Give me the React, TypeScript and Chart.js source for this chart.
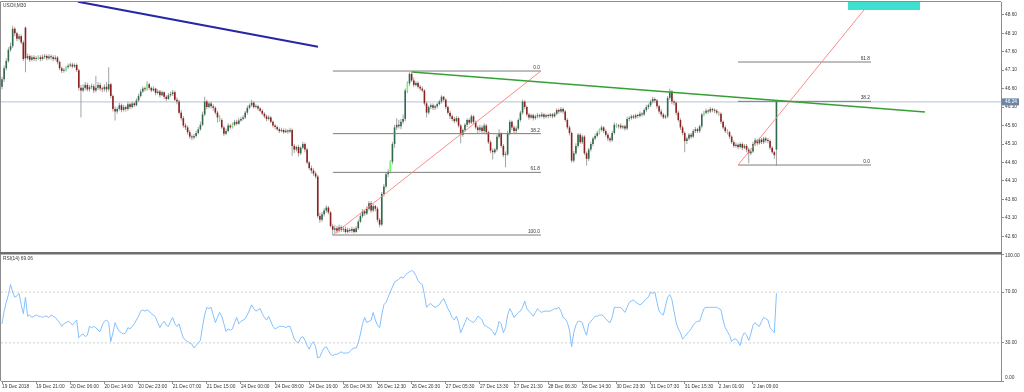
import React, { useEffect, useRef } from 'react';
import { Chart, registerables } from 'chart.js';

Chart.register(...registerables);

// ---------- DATA ----------
const symbolTitle = 'USOil,M30';
const rsiTitle = 'RSI(14) 69.06';
const lastPrice = 46.24;

const opens = [
  46.65, 46.85, 47.15, 47.35, 47.65, 47.75, 48.22, 48.10, 47.95, 48.02, 47.85, 48.25, 47.42, 47.48, 47.38, 47.45,
  47.40, 47.42, 47.45, 47.40, 47.46, 47.48, 47.42, 47.47, 47.45, 47.40, 47.44, 47.32, 47.15, 47.08, 47.10, 47.18,
  47.22, 47.25, 47.20, 47.24, 47.10, 46.62, 46.55, 46.62, 46.70, 46.58, 46.64, 46.66, 46.55, 46.62, 46.70, 46.60,
  46.58, 46.65, 46.58, 46.72, 46.40, 46.05, 45.98, 46.05, 46.15, 46.02, 46.10, 46.05, 46.18, 46.10, 46.20, 46.15,
  46.28, 46.40, 46.52, 46.60, 46.58, 46.72, 46.62, 46.55, 46.60, 46.48, 46.52, 46.42, 46.50, 46.38, 46.32, 46.42,
  46.45, 46.50, 46.30, 46.25, 45.95, 45.80, 45.60, 45.55, 45.42, 45.30, 45.28, 45.32, 45.40, 45.50, 45.62, 45.90,
  46.25, 46.10, 46.20, 46.12, 46.08, 45.95, 45.82, 45.75, 45.55, 45.38, 45.45, 45.60, 45.55, 45.62, 45.70, 45.65,
  45.74, 45.78, 45.82, 45.95, 46.08, 46.15, 46.22, 46.10, 46.12, 46.06, 46.00, 45.92, 45.85, 45.78, 45.82, 45.70,
  45.60, 45.56, 45.50, 45.45, 45.48, 45.42, 45.46, 45.44, 45.48, 45.05, 44.95, 45.02, 44.85, 45.00, 45.10, 44.95,
  44.60, 44.45, 44.38, 44.30, 44.22, 43.15, 43.05, 43.20, 43.30, 43.38, 43.25, 42.88, 42.78, 42.82, 42.75, 42.85,
  42.78, 42.80, 42.72, 42.78, 42.75, 42.80, 42.72, 42.82, 43.00, 43.15, 43.28, 43.22, 43.35, 43.50, 43.30, 43.42,
  43.35, 43.05, 42.92, 43.75, 43.95, 44.28, 44.35, 44.62, 45.10, 45.55, 45.62, 45.58, 45.70, 45.78, 46.55, 46.74,
  47.00, 46.82, 46.70, 46.75, 46.65, 46.60, 46.55, 46.20, 45.95, 46.10, 46.15, 46.08, 46.12, 46.18, 46.25, 46.38,
  46.30, 46.10, 45.95, 45.85, 45.78, 45.72, 45.80, 45.60, 45.35, 45.48, 45.62, 45.75, 45.68, 45.85, 45.70, 45.55,
  45.48, 45.55, 45.45, 45.60, 45.42, 45.15, 44.92, 44.88, 44.95, 45.30, 45.38, 45.05, 44.80, 44.82, 45.40, 45.70,
  45.55, 45.45, 45.52, 45.75, 45.95, 46.25, 46.10, 45.90, 45.82, 45.88, 45.80, 45.85, 45.88, 45.85, 45.90, 45.84,
  45.88, 45.86, 45.90, 45.85, 45.92, 46.02, 45.98, 46.05, 45.98, 45.75, 45.55, 45.40, 44.65, 44.85, 45.05, 45.35,
  45.15, 45.30, 44.85, 44.70, 44.95, 45.10, 45.25, 45.32, 45.40, 45.48, 45.55, 45.45, 45.35, 45.25, 45.20, 45.40,
  45.62, 45.58, 45.60, 45.55, 45.58, 45.52, 45.78, 45.80, 45.85, 45.82, 45.88, 45.86, 45.92, 45.90, 46.02, 46.10,
  46.15, 46.25, 46.32, 46.28, 46.12, 45.98, 45.90, 45.82, 45.85, 46.35, 46.52, 46.25, 46.22, 45.95, 45.75, 45.55,
  45.40, 45.18, 45.25, 45.35, 45.30, 45.45, 45.50, 45.45, 45.58, 45.90, 45.95, 46.00, 45.98, 46.05, 46.02, 46.00,
  45.95, 45.92, 45.70, 45.55, 45.45, 45.42, 45.30, 45.15, 45.05, 45.08, 45.02, 45.10, 45.00, 45.05, 44.95, 44.85,
  44.90, 45.10, 45.20, 45.12, 45.22, 45.15, 45.25, 45.20, 45.18, 45.00, 44.88, 44.95,
];

const highs = [
  46.92, 47.22, 47.42, 47.72, 47.85, 48.30, 48.26, 48.14, 48.08, 48.06, 47.90, 48.28, 47.55, 47.52, 47.50, 47.50,
  47.48, 47.50, 47.50, 47.52, 47.54, 47.52, 47.53, 47.52, 47.50, 47.50, 47.48, 47.36, 47.20, 47.16, 47.22, 47.28,
  47.30, 47.30, 47.28, 47.28, 47.14, 46.70, 46.72, 46.78, 46.76, 46.70, 46.74, 46.72, 46.95, 46.78, 46.76, 46.66,
  46.72, 46.78, 47.18, 46.76, 46.44, 46.12, 46.10, 46.22, 46.20, 46.16, 46.14, 46.24, 46.22, 46.26, 46.24, 46.34,
  46.46, 46.58, 46.66, 46.66, 46.80, 46.76, 46.66, 46.66, 46.62, 46.58, 46.56, 46.55, 46.52, 46.42, 46.48, 46.52,
  46.56, 46.55, 46.36, 46.30, 46.02, 45.86, 45.66, 45.60, 45.48, 45.36, 45.38, 45.46, 45.56, 45.70, 45.98, 46.38,
  46.30, 46.24, 46.26, 46.18, 46.12, 46.00, 45.88, 45.80, 45.60, 45.52, 45.66, 45.64, 45.68, 45.76, 45.76, 45.80,
  45.84, 45.88, 46.00, 46.14, 46.20, 46.30, 46.26, 46.18, 46.16, 46.10, 46.04, 45.96, 45.90, 45.88, 45.86, 45.74,
  45.64, 45.60, 45.55, 45.54, 45.52, 45.52, 45.50, 45.54, 45.52, 45.10, 45.06, 45.08, 45.04, 45.16, 45.14, 45.00,
  44.64, 44.52, 44.44, 44.36, 44.26, 43.24, 43.26, 43.36, 43.44, 43.42, 43.28, 42.94, 42.90, 42.88, 42.92, 42.90,
  42.88, 42.86, 42.84, 42.82, 42.86, 42.84, 42.88, 43.06, 43.22, 43.34, 43.32, 43.42, 43.56, 43.55, 43.48, 43.46,
  43.40, 43.10, 43.80, 44.02, 44.34, 44.42, 44.66, 45.16, 45.62, 45.80, 45.76, 45.78, 45.90, 46.60, 46.80, 47.04,
  47.06, 46.90, 46.80, 46.80, 46.70, 46.66, 46.58, 46.26, 46.14, 46.20, 46.20, 46.16, 46.22, 46.30, 46.42, 46.40,
  46.34, 46.14, 46.00, 45.90, 45.84, 45.86, 45.84, 45.64, 45.52, 45.66, 45.80, 45.80, 45.90, 45.88, 45.74, 45.60,
  45.62, 45.60, 45.66, 45.64, 45.46, 45.20, 44.98, 45.00, 45.36, 45.50, 45.42, 45.10, 44.90, 45.46, 45.76, 45.74,
  45.60, 45.58, 45.80, 46.00, 46.30, 46.28, 46.14, 45.94, 45.92, 45.92, 45.90, 45.94, 45.92, 45.96, 45.94, 45.92,
  45.92, 45.94, 45.94, 45.96, 46.06, 46.06, 46.10, 46.09, 46.02, 45.80, 45.60, 45.44, 44.92, 45.12, 45.40, 45.40,
  45.36, 45.34, 44.90, 45.00, 45.16, 45.30, 45.38, 45.46, 45.52, 45.60, 45.58, 45.50, 45.40, 45.30, 45.46, 45.68,
  45.66, 45.64, 45.66, 45.62, 45.62, 45.84, 45.86, 45.90, 45.90, 45.92, 45.92, 45.98, 45.96, 46.06, 46.16, 46.20,
  46.30, 46.38, 46.36, 46.32, 46.16, 46.04, 45.94, 45.90, 46.40, 46.60, 46.56, 46.30, 46.26, 46.00, 45.80, 45.60,
  45.44, 45.30, 45.40, 45.40, 45.50, 45.56, 45.54, 45.62, 45.94, 46.00, 46.06, 46.04, 46.10, 46.08, 46.06, 46.04,
  45.98, 45.96, 45.74, 45.60, 45.50, 45.46, 45.34, 45.20, 45.14, 45.12, 45.15, 45.14, 45.10, 45.10, 45.00, 44.96,
  45.16, 45.26, 45.24, 45.28, 45.26, 45.30, 45.30, 45.26, 45.22, 45.04, 44.92, 46.26,
];

const lows = [
  46.58, 46.78, 47.10, 47.30, 47.60, 47.70, 48.02, 47.88, 47.90, 47.80, 47.35, 47.04, 47.38, 47.32, 47.34, 47.35,
  47.34, 47.38, 47.34, 47.36, 47.40, 47.36, 47.38, 47.38, 47.34, 47.36, 47.26, 47.10, 47.02, 47.03, 47.06, 47.14,
  47.18, 47.15, 47.16, 47.05, 46.55, 45.82, 46.50, 46.55, 46.52, 46.52, 46.58, 46.48, 46.50, 46.56, 46.54, 46.50,
  46.52, 46.50, 46.52, 46.34, 45.98, 45.74, 45.92, 46.00, 45.96, 45.98, 45.98, 46.00, 46.04, 46.06, 46.10, 46.12,
  46.24, 46.36, 46.48, 46.52, 46.54, 46.56, 46.50, 46.52, 46.42, 46.44, 46.36, 46.40, 46.32, 46.26, 46.30, 46.38,
  46.40, 46.26, 46.18, 45.90, 45.74, 45.54, 45.48, 45.36, 45.24, 45.20, 45.22, 45.28, 45.36, 45.46, 45.58, 45.86,
  46.04, 46.06, 46.06, 46.00, 45.90, 45.68, 45.70, 45.50, 45.32, 45.34, 45.42, 45.50, 45.52, 45.58, 45.60, 45.62,
  45.70, 45.74, 45.78, 45.90, 46.04, 46.10, 46.06, 46.06, 46.00, 45.96, 45.88, 45.80, 45.72, 45.74, 45.66, 45.55,
  45.50, 45.46, 45.40, 45.42, 45.38, 45.40, 45.38, 45.40, 44.78, 44.86, 44.90, 44.76, 44.80, 44.96, 44.88, 44.55,
  44.40, 44.30, 44.24, 44.16, 43.10, 42.97, 43.00, 43.14, 43.24, 43.20, 42.84, 42.63, 42.70, 42.68, 42.70, 42.72,
  42.72, 42.68, 42.68, 42.70, 42.70, 42.68, 42.70, 42.78, 42.96, 43.10, 43.16, 43.18, 43.30, 43.24, 43.26, 43.28,
  42.98, 42.85, 42.88, 43.68, 43.90, 44.20, 44.30, 44.55, 45.00, 45.48, 45.52, 45.50, 45.64, 45.72, 46.48, 46.68,
  46.78, 46.64, 46.66, 46.60, 46.54, 46.50, 46.14, 45.82, 45.90, 46.04, 46.02, 46.02, 46.06, 46.14, 46.20, 46.24,
  46.04, 45.90, 45.78, 45.72, 45.66, 45.68, 45.55, 45.12, 45.30, 45.42, 45.56, 45.62, 45.64, 45.64, 45.50, 45.40,
  45.42, 45.40, 45.40, 45.36, 45.10, 44.86, 44.68, 44.84, 44.90, 45.24, 45.00, 44.74, 44.47, 44.78, 45.34, 45.48,
  45.40, 45.40, 45.48, 45.70, 45.90, 46.04, 45.84, 45.76, 45.78, 45.74, 45.76, 45.80, 45.80, 45.82, 45.78, 45.80,
  45.80, 45.82, 45.80, 45.82, 45.88, 45.92, 45.94, 45.92, 45.70, 45.50, 45.34, 44.60, 44.60, 44.80, 45.00, 45.10,
  45.10, 44.80, 44.52, 44.64, 44.90, 45.04, 45.20, 45.28, 45.36, 45.44, 45.40, 45.30, 45.18, 45.15, 45.16, 45.36,
  45.54, 45.52, 45.50, 45.50, 45.46, 45.48, 45.72, 45.76, 45.78, 45.78, 45.80, 45.82, 45.84, 45.86, 45.96, 46.04,
  46.10, 46.20, 46.22, 46.06, 45.92, 45.84, 45.78, 45.78, 45.80, 46.30, 46.18, 46.14, 45.88, 45.70, 45.48, 45.34,
  44.88, 45.10, 45.20, 45.24, 45.26, 45.40, 45.40, 45.40, 45.52, 45.85, 45.90, 45.92, 45.94, 45.96, 45.94, 45.90,
  45.86, 45.64, 45.50, 45.40, 45.36, 45.24, 45.10, 45.00, 45.00, 44.96, 44.98, 44.94, 44.96, 44.88, 44.58, 44.80,
  44.86, 45.04, 45.06, 45.08, 45.10, 45.10, 45.14, 45.12, 44.94, 44.84, 44.70, 44.52,
];

const closes = [
  46.85, 47.15, 47.35, 47.65, 47.75, 48.22, 48.10, 47.95, 48.02, 47.85, 47.40, 47.42, 47.48, 47.38, 47.45, 47.40,
  47.42, 47.45, 47.40, 47.46, 47.48, 47.42, 47.47, 47.45, 47.40, 47.44, 47.32, 47.15, 47.08, 47.10, 47.18, 47.22,
  47.25, 47.20, 47.24, 47.10, 46.62, 46.55, 46.62, 46.70, 46.58, 46.64, 46.66, 46.55, 46.62, 46.70, 46.60, 46.58,
  46.65, 46.58, 46.72, 46.40, 46.05, 45.98, 46.05, 46.15, 46.02, 46.10, 46.05, 46.18, 46.10, 46.20, 46.15, 46.28,
  46.40, 46.52, 46.60, 46.58, 46.72, 46.62, 46.55, 46.60, 46.48, 46.52, 46.42, 46.50, 46.38, 46.32, 46.42, 46.45,
  46.50, 46.30, 46.25, 45.95, 45.80, 45.60, 45.55, 45.42, 45.30, 45.28, 45.32, 45.40, 45.50, 45.62, 45.90, 46.25,
  46.10, 46.20, 46.12, 46.08, 45.95, 45.82, 45.75, 45.55, 45.38, 45.45, 45.60, 45.55, 45.62, 45.70, 45.65, 45.74,
  45.78, 45.82, 45.95, 46.08, 46.15, 46.22, 46.10, 46.12, 46.06, 46.00, 45.92, 45.85, 45.78, 45.82, 45.70, 45.60,
  45.56, 45.50, 45.45, 45.48, 45.42, 45.46, 45.44, 45.48, 45.05, 44.95, 45.02, 44.85, 45.00, 45.10, 44.95, 44.60,
  44.45, 44.38, 44.30, 44.22, 43.15, 43.05, 43.20, 43.30, 43.38, 43.25, 42.88, 42.78, 42.82, 42.75, 42.85, 42.78,
  42.80, 42.72, 42.78, 42.75, 42.80, 42.72, 42.82, 43.00, 43.15, 43.28, 43.22, 43.35, 43.50, 43.30, 43.42, 43.35,
  43.05, 42.92, 43.75, 43.95, 44.28, 44.35, 44.62, 45.10, 45.55, 45.62, 45.58, 45.70, 45.78, 46.55, 46.74, 47.00,
  46.82, 46.70, 46.75, 46.65, 46.60, 46.55, 46.20, 45.95, 46.10, 46.15, 46.08, 46.12, 46.18, 46.25, 46.38, 46.30,
  46.10, 45.95, 45.85, 45.78, 45.72, 45.80, 45.60, 45.35, 45.48, 45.62, 45.75, 45.68, 45.85, 45.70, 45.55, 45.48,
  45.55, 45.45, 45.60, 45.42, 45.15, 44.92, 44.88, 44.95, 45.30, 45.38, 45.05, 44.80, 44.82, 45.40, 45.70, 45.55,
  45.45, 45.52, 45.75, 45.95, 46.25, 46.10, 45.90, 45.82, 45.88, 45.80, 45.85, 45.88, 45.85, 45.90, 45.84, 45.88,
  45.86, 45.90, 45.85, 45.92, 46.02, 45.98, 46.05, 45.98, 45.75, 45.55, 45.40, 44.65, 44.85, 45.05, 45.35, 45.15,
  45.30, 44.85, 44.70, 44.95, 45.10, 45.25, 45.32, 45.40, 45.48, 45.55, 45.45, 45.35, 45.25, 45.20, 45.40, 45.62,
  45.58, 45.60, 45.55, 45.58, 45.52, 45.78, 45.80, 45.85, 45.82, 45.88, 45.86, 45.92, 45.90, 46.02, 46.10, 46.15,
  46.25, 46.32, 46.28, 46.12, 45.98, 45.90, 45.82, 45.85, 46.35, 46.52, 46.25, 46.22, 45.95, 45.75, 45.55, 45.40,
  45.18, 45.25, 45.35, 45.30, 45.45, 45.50, 45.45, 45.58, 45.90, 45.95, 46.00, 45.98, 46.05, 46.02, 46.00, 45.95,
  45.92, 45.70, 45.55, 45.45, 45.42, 45.30, 45.15, 45.05, 45.08, 45.02, 45.10, 45.00, 45.05, 44.95, 44.85, 44.90,
  45.10, 45.20, 45.12, 45.22, 45.15, 45.25, 45.20, 45.18, 45.00, 44.88, 44.80, 46.24,
];

// bars MT4 painted in bright green (doji-like)
const limeBars = [17, 30, 68, 102, 108, 182, 190, 280, 288, 329, 336, 340];

const rsiValues = [
  45, 55, 62, 68, 76, 70, 66, 67, 69, 60, 53, 66, 51, 52, 50, 51,
  52, 51, 51, 50, 51, 51, 50, 52, 51, 50, 48, 46, 43, 45, 46, 47,
  46, 44, 46, 48, 34, 36, 37, 35, 36, 43, 42, 43, 42, 40, 39, 44,
  47, 48, 46, 31, 38, 46, 42, 39, 38, 37, 38, 42, 41, 43, 45, 48,
  51, 55, 56, 55, 56, 55, 53, 52, 50, 46, 42, 45, 47, 44, 43, 47,
  50, 45, 43, 45, 39, 34, 32, 31, 30, 29, 26, 28, 30, 32, 43, 52,
  58, 57, 58, 52, 46, 50, 54, 51, 45, 39, 41, 40, 41, 46, 50, 45,
  47, 48, 49, 52, 56, 60, 57, 55, 56, 57, 53, 50, 48, 51, 47, 43,
  41, 42, 43, 43, 43, 42, 43, 43, 38, 33, 31, 30, 34, 35, 32, 28,
  25, 29, 31, 27, 18, 19, 23, 26, 27, 24, 21, 20, 21, 21, 22, 23,
  22, 22, 22, 23, 25, 26, 26, 30, 37, 45, 50, 46, 47, 48, 54, 48,
  44, 42, 52, 60, 62, 66, 70, 74, 78, 79, 80, 82, 81, 83, 85, 86,
  87, 86, 83, 79, 77, 76, 68, 58, 60, 61, 59, 58, 59, 60, 63, 65,
  61, 57, 54, 50, 48, 51, 46, 38, 42, 46, 50, 48, 47, 46, 48, 51,
  50, 48, 44, 43, 42, 41, 39, 36, 40, 47, 45, 38, 42, 52, 57, 54,
  50, 52, 54, 55, 58, 63, 57, 55, 53, 51, 54, 57, 55, 54, 55, 55,
  55, 55, 56, 57, 57, 58, 55, 50, 49, 46, 40, 27, 38, 44, 47, 47,
  46, 40, 36, 45, 47, 49, 51, 51, 52, 52, 51, 49, 47, 46, 50, 58,
  58, 58, 58, 56, 54, 58, 62, 63, 64, 62, 61, 60, 61, 63, 65, 66,
  70, 69, 70, 62, 55, 53, 52, 59, 66, 68, 64, 55, 46, 41, 38, 33,
  35, 37, 39, 41, 44, 46, 47, 47, 52, 57, 58, 58, 58, 58, 58, 58,
  57, 56, 48, 42, 39, 36, 31, 33, 33, 31, 28, 35, 38, 36, 32, 37,
  44, 46, 44, 43, 47, 50, 49, 48, 42, 40, 38, 69.06,
];

const timeTickBars = [0, 16, 32, 48, 64, 80, 96, 112, 128, 144, 160, 176, 192, 208, 224, 240, 256, 272, 288, 304, 320, 336, 352];
const timeLabels = [
  '19 Dec 2018', '19 Dec 21:00', '20 Dec 06:00', '20 Dec 14:00', '20 Dec 23:00', '21 Dec 07:00',
  '21 Dec 15:00', '24 Dec 00:00', '24 Dec 08:00', '24 Dec 16:00', '26 Dec 04:30', '26 Dec 12:30',
  '26 Dec 20:30', '27 Dec 05:30', '27 Dec 13:30', '27 Dec 21:30', '28 Dec 06:30', '28 Dec 14:30',
  '30 Dec 23:30', '31 Dec 07:30', '31 Dec 15:30', '2 Jan 01:00', '2 Jan 09:00',
];
const priceTicks = [42.6, 43.1, 43.6, 44.1, 44.6, 45.1, 45.6, 46.1, 46.6, 47.1, 47.6, 48.1, 48.6];
const rsiTicks = [0, 30, 70, 100];
const rsiEdgeTicks = [0, 100];
const rsiLevels = [30, 70];

// axis ranges
const xMin = -0.47;
const xMax = 468.25;
const priceMin = 42.178;
const priceMax = 48.944;

// drawn objects (bar index, price)
const blueLineX = [35.6, 148.1];
const blueLineY = [48.952, 47.734];
const greenLineX = [192.2, 432.6];
const greenLineY = [47.05, 45.967];
const redLeftX = [155.1, 252.6];
const redLeftY = [42.638, 47.076];
const redRightX = [345, 410];
const redRightY = [44.532, 49.154];
const fibLeftX = [155.1, 252.6];
const fibLeftLevels = [47.076, 45.381, 44.333, 42.638];
const fibLeftLabels = ['0.0', '38.2', '61.8', '100.0'];
const fibRightX = [345, 407.3];
const fibRightLevels = [44.532, 46.255, 47.32];
const fibRightLabels = ['0.0', '38.2', '61.8'];
const boxX = [396.5, 430.3];
const boxY = [48.727, 49.2];

// ---------- STYLE ----------
const FONT = 'Liberation Sans';
const FS = 4.8;
const TEXT = '#383838';
const FRAME = '#8c8c8c';

export default function App() {
  const priceRef = useRef<HTMLCanvasElement>(null);
  const rsiRef = useRef<HTMLCanvasElement>(null);

  useEffect(() => {
    const bars = closes.map((_, i) => i);
    const bodyColors = bars.map((i) =>
      limeBars.includes(i) ? '#66ff66' : closes[i] >= opens[i] ? '#2f6a4c' : '#8e2020'
    );
    const seg = (xs: number[], ys: number[]) => [
      { x: xs[0], y: ys[0] },
      { x: xs[1], y: ys[1] },
    ];
    const lineDs = (data: any, color: string, width: number, order: number, extra: any = {}) => ({
      type: 'line',
      data,
      borderColor: color,
      borderWidth: width,
      pointRadius: 0,
      fill: false,
      tension: 0,
      clip: 0,
      order,
      ...extra,
    });

    const noPad = (s: any) => {
      s.paddingTop = 0;
      s.paddingBottom = 0;
      s.paddingLeft = 0;
      s.paddingRight = 0;
    };

    const priceOverlay = {
      id: 'priceOverlay',
      afterDatasetsDraw(chart: any) {
        const { ctx, chartArea, scales } = chart;
        const { x, y } = scales;
        ctx.save();
        ctx.beginPath();
        ctx.rect(chartArea.left, chartArea.top, chartArea.right - chartArea.left, chartArea.bottom - chartArea.top);
        ctx.clip();
        const rx0 = x.getPixelForValue(boxX[0]);
        const rx1 = x.getPixelForValue(boxX[1]);
        const ry0 = y.getPixelForValue(boxY[1]);
        const ry1 = y.getPixelForValue(boxY[0]);
        ctx.fillStyle = '#3fe0cf';
        ctx.fillRect(rx0, ry0, rx1 - rx0, ry1 - ry0);
        ctx.font = `${FS}px ${FONT}`;
        ctx.fillStyle = TEXT;
        ctx.textAlign = 'right';
        ctx.textBaseline = 'bottom';
        fibLeftLevels.forEach((lv, i) => {
          ctx.fillText(fibLeftLabels[i], x.getPixelForValue(fibLeftX[1]) - 1, y.getPixelForValue(lv) - 1);
        });
        fibRightLevels.forEach((lv, i) => {
          ctx.fillText(fibRightLabels[i], x.getPixelForValue(fibRightX[1]) - 1, y.getPixelForValue(lv) - 1);
        });
        ctx.textAlign = 'left';
        ctx.textBaseline = 'top';
        ctx.fillText(symbolTitle, chartArea.left + 2, chartArea.top + 1);
        ctx.restore();
      },
      afterDraw(chart: any) {
        const { ctx, chartArea, scales } = chart;
        ctx.save();
        ctx.strokeStyle = FRAME;
        ctx.lineWidth = 1;
        ctx.beginPath();
        ctx.moveTo(chartArea.left - 0.5, chartArea.bottom);
        ctx.lineTo(chartArea.left - 0.5, chartArea.top - 0.5);
        ctx.lineTo(chartArea.right, chartArea.top - 0.5);
        ctx.stroke();
        const py = scales.y.getPixelForValue(lastPrice);
        ctx.fillStyle = '#6d84a6';
        ctx.fillRect(chartArea.right + 1, py - 3.5, 17, 7);
        ctx.fillStyle = '#ffffff';
        ctx.font = `${FS}px ${FONT}`;
        ctx.textAlign = 'left';
        ctx.textBaseline = 'middle';
        ctx.fillText(lastPrice.toFixed(2), chartArea.right + 4, py);
        ctx.restore();
      },
    };

    const priceChart = new Chart(priceRef.current as HTMLCanvasElement, {
      type: 'bar',
      data: {
        datasets: [
          lineDs(seg([xMin, xMax], [lastPrice, lastPrice]), '#b4c2d6', 1, 20),
          {
            type: 'bar',
            data: bars.map((i) => ({ x: i, y: [lows[i], highs[i]] })),
            backgroundColor: '#a4a4a4',
            barThickness: 1,
            grouped: false,
            inflateAmount: 0,
            borderWidth: 0,
            order: 15,
          },
          {
            type: 'bar',
            data: bars.map((i) => ({ x: i, y: [opens[i], closes[i]] })),
            backgroundColor: bodyColors,
            barThickness: 1.6,
            minBarLength: 1,
            grouped: false,
            inflateAmount: 0,
            borderWidth: 0,
            order: 14,
          },
          ...fibLeftLevels.map((lv) => lineDs(seg(fibLeftX, [lv, lv]), '#7c7c7c', 1, 10)),
          ...fibRightLevels.map((lv) => lineDs(seg(fibRightX, [lv, lv]), '#7c7c7c', 1, 10)),
          lineDs(seg(redLeftX, redLeftY), '#ff8a8a', 1, 8),
          lineDs(seg(redRightX, redRightY), '#ff8a8a', 1, 8),
          lineDs(seg(greenLineX, greenLineY), '#35a035', 1.6, 6),
          lineDs(seg(blueLineX, blueLineY), '#2626a6', 2, 5),
        ] as any,
      },
      options: {
        responsive: false,
        maintainAspectRatio: false,
        animation: false,
        devicePixelRatio: 1,
        events: [],
        layout: { padding: { left: 1, top: 2, right: 0, bottom: 0 } },
        plugins: { legend: { display: false }, tooltip: { enabled: false } },
        scales: {
          x: { type: 'linear', min: xMin, max: xMax, offset: false, display: false },
          y: {
            type: 'linear',
            position: 'right',
            min: priceMin,
            max: priceMax,
            afterBuildTicks: (s: any) => {
              s.ticks = priceTicks.map((v) => ({ value: v }));
            },
            afterFit: (s: any) => {
              s.width = 23;
              noPad(s);
            },
            grid: { drawOnChartArea: false, drawTicks: true, tickLength: 3, color: FRAME },
            border: { display: true, color: FRAME },
            ticks: {
              autoSkip: false,
              padding: 1,
              color: TEXT,
              font: { family: FONT, size: FS, lineHeight: 1 },
              callback: (v: any) => Number(v).toFixed(2),
            },
          },
        },
      } as any,
      plugins: [priceOverlay],
    });

    const rsiOverlay = {
      id: 'rsiOverlay',
      afterDraw(chart: any) {
        const { ctx, chartArea, scales } = chart;
        ctx.save();
        ctx.fillStyle = '#6e6e6e';
        ctx.fillRect(0, 0, chartArea.right + 1, 2.5);
        ctx.strokeStyle = FRAME;
        ctx.lineWidth = 1;
        ctx.beginPath();
        ctx.moveTo(chartArea.left - 0.5, chartArea.top);
        ctx.lineTo(chartArea.left - 0.5, chartArea.bottom);
        ctx.stroke();
        ctx.font = `${FS}px ${FONT}`;
        ctx.fillStyle = TEXT;
        ctx.textAlign = 'left';
        ctx.textBaseline = 'top';
        ctx.fillText(rsiTitle, chartArea.left + 2, chartArea.top + 2);
        // edge tick labels kept inside the panel, as the terminal does
        ctx.textBaseline = 'middle';
        rsiEdgeTicks.forEach((v) => {
          const py = scales.y.getPixelForValue(v);
          const shifted = v === rsiEdgeTicks[1] ? py + 2 : py - 3;
          ctx.fillText(v.toFixed(2), chartArea.right + 4, shifted);
        });
        ctx.restore();
      },
    };

    const rsiChart = new Chart(rsiRef.current as HTMLCanvasElement, {
      type: 'line',
      data: {
        datasets: [
          ...rsiLevels.map((lv) =>
            lineDs(seg([xMin, xMax], [lv, lv]), '#cfcfcf', 1, 5, { borderDash: [2, 2] })
          ),
          lineDs(
            rsiValues.map((v, i) => ({ x: i, y: v })),
            '#84c0ff',
            1,
            1
          ),
        ] as any,
      },
      options: {
        responsive: false,
        maintainAspectRatio: false,
        animation: false,
        devicePixelRatio: 1,
        events: [],
        layout: { padding: { left: 1, top: 2, right: 0, bottom: 0 } },
        plugins: { legend: { display: false }, tooltip: { enabled: false } },
        scales: {
          x: {
            type: 'linear',
            min: xMin,
            max: xMax,
            offset: false,
            afterBuildTicks: (s: any) => {
              s.ticks = timeTickBars.map((v) => ({ value: v }));
            },
            afterFit: (s: any) => {
              s.height = 11;
              noPad(s);
            },
            grid: { drawOnChartArea: false, drawTicks: true, tickLength: 3, color: FRAME },
            border: { display: true, color: FRAME },
            ticks: {
              autoSkip: false,
              maxRotation: 0,
              minRotation: 0,
              align: 'start',
              padding: 0,
              color: TEXT,
              font: { family: FONT, size: FS, lineHeight: 1 },
              callback: (v: any) => timeLabels[timeTickBars.indexOf(Number(v))],
            },
          },
          y: {
            type: 'linear',
            position: 'right',
            min: 0,
            max: 100,
            afterBuildTicks: (s: any) => {
              s.ticks = rsiTicks.map((v) => ({ value: v }));
            },
            afterFit: (s: any) => {
              s.width = 23;
              noPad(s);
            },
            grid: { drawOnChartArea: false, drawTicks: true, tickLength: 3, color: FRAME },
            border: { display: true, color: FRAME },
            ticks: {
              autoSkip: false,
              padding: 1,
              color: TEXT,
              font: { family: FONT, size: FS, lineHeight: 1 },
              callback: (v: any) => (rsiEdgeTicks.includes(Number(v)) ? '' : Number(v).toFixed(2)),
            },
          },
        },
      } as any,
      plugins: [rsiOverlay],
    });

    return () => {
      priceChart.destroy();
      rsiChart.destroy();
    };
  }, []);

  return (
    <div style={{ position: 'absolute', left: 0, top: 0, width: 1024, height: 392, background: '#ffffff' }}>
      <canvas ref={priceRef} width={1024} height={252} style={{ position: 'absolute', left: 0, top: 0 }} />
      <canvas ref={rsiRef} width={1024} height={140} style={{ position: 'absolute', left: 0, top: 252 }} />
    </div>
  );
}
